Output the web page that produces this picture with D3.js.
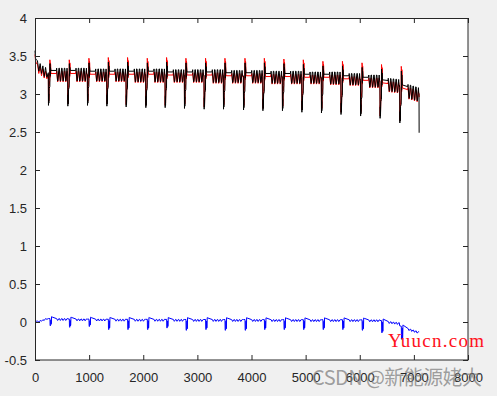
<!DOCTYPE html>
<html lang="en">
<head>
  <meta charset="UTF-8">
  <title>Voltage</title>
  <style>
    body { margin: 0; background: #f0f0f0; }
    svg { display: block; }
    .axis text { font-family: "Liberation Sans", Arial, sans-serif; font-size: 13px; fill: #262626; }
    .axis line, .axis path { stroke: #262626; }
    .line { fill: none; stroke-width: 1px; }
  </style>
</head>
<body>
  <script src="https://cdnjs.cloudflare.com/ajax/libs/d3/7.8.5/d3.min.js"></script>
  <script>
    // tick labels
    var xTicks = [0, 1000, 2000, 3000, 4000, 5000, 6000, 7000, 8000];
    var yTicks = [-0.5, 0, 0.5, 1, 1.5, 2, 2.5, 3, 3.5, 4];
    var yLabels = ["-0.5", "0", "0.5", "1", "1.5", "2", "2.5", "3", "3.5", "4"];

    // start of the record, before the first pulse
    var leadX   = [0, 10, 25, 45, 70, 95, 120, 145, 170, 195, 220, 246];
    var leadBlk = [3.57, 3.47, 3.45, 3.44, 3.30, 3.40, 3.27, 3.37, 3.23, 3.35, 3.22, 3.28];
    var leadRed = [3.52, 3.44, 3.40, 3.40, 3.27, 3.36, 3.24, 3.33, 3.21, 3.30, 3.20, 3.25];
    var leadBlu = [0.0, 0.005, 0.01, 0.012, 0.0, 0.02, 0.01, 0.03, 0.02, 0.045, 0.035, 0.045];

    // one entry per pulse cycle
    var cycleX  = [246, 604, 967, 1325, 1681, 2045, 2402, 2759, 3122, 3480, 3850, 4208, 4569, 4928, 5290, 5651, 6013, 6373, 6738];
    var blkTop  = [3.34, 3.34, 3.33, 3.33, 3.33, 3.33, 3.32, 3.32, 3.32, 3.31, 3.31, 3.30, 3.30, 3.29, 3.29, 3.27, 3.25, 3.22, 3.16];
    var blkBot  = [3.17, 3.17, 3.17, 3.17, 3.16, 3.16, 3.16, 3.16, 3.15, 3.15, 3.15, 3.14, 3.14, 3.14, 3.13, 3.12, 3.09, 3.05, 2.98];
    var blkDip  = [2.85, 2.84, 2.85, 2.84, 2.83, 2.82, 2.82, 2.81, 2.80, 2.80, 2.79, 2.78, 2.78, 2.76, 2.75, 2.73, 2.71, 2.68, 2.62];
    var blkPeak = [3.40, 3.40, 3.41, 3.42, 3.42, 3.41, 3.42, 3.41, 3.41, 3.41, 3.41, 3.41, 3.40, 3.39, 3.37, 3.37, 3.35, 3.33, 3.31];
    var redPeak = [3.45, 3.45, 3.47, 3.48, 3.48, 3.47, 3.48, 3.47, 3.47, 3.47, 3.47, 3.47, 3.46, 3.45, 3.43, 3.43, 3.41, 3.39, 3.37];
    var redDip  = [2.88, 2.87, 2.88, 2.87, 2.86, 2.85, 2.85, 2.84, 2.83, 2.83, 2.82, 2.81, 2.81, 2.79, 2.78, 2.76, 2.74, 2.71, 2.65];
    var bluBase = [0.045, 0.04, 0.038, 0.036, 0.035, 0.035, 0.034, 0.033, 0.033, 0.032, 0.032, 0.031, 0.031, 0.03, 0.03, 0.03, 0.028, 0.02, -0.05];
    var bluLow  = [-0.05, -0.07, -0.06, -0.10, -0.10, -0.10, -0.08, -0.11, -0.10, -0.11, -0.11, -0.10, -0.10, -0.10, -0.10, -0.10, -0.11, -0.14, -0.22];
    var drift   = [0, 0, 0, 0, 0, 0, 0, 0, 0, 0, 0, 0, 0, 0, 0, 0, 0, -0.03, -0.08];

    // end of the record
    var tailX   = [7097];
    var tailBlk = [2.49];
    var tailRed = [2.96];
    var tailBlu = [-0.13];

    // shape of one cycle: [offset, level, delta]
    var toothAt = [150, 200, 250, 300];
    var blkShape = [[0, "top", -0.07], [3, "dip", 0], [7, "dip", 0.15], [10, "dip", 0.03], [16, "dip", 0.22], [28, "dip", 0.25],
      [31, "peak", 0], [36, "top", -0.1], [40, "peak", -0.05], [48, "top", -0.03], [150, "top", -0.03]];
    var redShape = [[0, "top", -0.08], [3, "rdip", 0], [7, "rdip", 0.14], [10, "rdip", 0.03], [16, "rdip", 0.22], [26, "rdip", 0.3],
      [29, "rpeak", 0], [33, "rpeak", -0.03], [36, "top", -0.12], [40, "rpeak", -0.04], [44, "rpeak", -0.07], [48, "top", -0.07], [150, "top", -0.07]];
    var bluShape = [[0, "base", 0], [30, "base", 0], [33, "blow", 0.01], [37, "blow", 0], [44, "blow", 0.02], [48, "base", -0.02],
      [52, "blow", 0.02], [56, "blow", 0.03], [60, "base", 0.025], [72, "base", 0.02], [150, "base", 0]];
    var blkTooth = [[4, "top", 0], [22, "bot", 0], [28, "bot", 0.01], [46, "top", 0]];
    var redTooth = [[4, "top", -0.04], [22, "bot", -0.01], [28, "bot", 0], [46, "top", -0.04]];
    var bluTooth = [[4, "base", 0], [22, "base", -0.025], [28, "base", -0.02], [46, "base", 0]];
    var blkEnd = [[352, "top", -0.07], [357, "top", -0.07]];
    var redEnd = [[352, "top", -0.08], [357, "top", -0.08]];
    var bluEnd = [[357, "base", 0]];

    var levels = { top: blkTop, bot: blkBot, dip: blkDip, peak: blkPeak, rdip: redDip, rpeak: redPeak, base: bluBase, blow: bluLow };

    function build(lx, lv, shape, tooth, end, tx, tv) {
      var pts = lx.map(function (x, i) { return [x, lv[i]]; });
      cycleX.forEach(function (c, i) {
        var seq = shape.slice();
        toothAt.forEach(function (s) {
          tooth.forEach(function (p) { seq.push([s + p[0], p[1], p[2]]); });
        });
        seq = seq.concat(end);
        seq.forEach(function (p) {
          pts.push([c + p[0], levels[p[1]][i] + p[2] + drift[i] * p[0] / 360]);
        });
      });
      tx.forEach(function (x, i) { pts.push([x, tv[i]]); });
      return pts;
    }

    var redData = build(leadX, leadRed, redShape, redTooth, redEnd, tailX, tailRed);
    var blkData = build(leadX, leadBlk, blkShape, blkTooth, blkEnd, tailX, tailBlk);
    var bluData = build(leadX, leadBlu, bluShape, bluTooth, bluEnd, tailX, tailBlu);

    var W = 497, H = 396;
    var margin = { top: 18, right: 29, bottom: 36, left: 35 };
    var width = W - margin.left - margin.right,
        height = H - margin.top - margin.bottom;

    var x = d3.scaleLinear().domain([0, 8000]).range([0, width]);
    var y = d3.scaleLinear().domain([-0.5, 4]).range([height, 0]);

    var svg = d3.select("body").append("svg")
        .attr("width", W)
        .attr("height", H);

    var g = svg.append("g")
        .attr("transform", "translate(" + margin.left + "," + margin.top + ")");

    g.append("rect")
        .attr("width", width)
        .attr("height", height)
        .attr("fill", "#fff");

    var line = d3.line()
        .x(function (d) { return x(d[0]); })
        .y(function (d) { return y(d[1]); });

    g.append("path").datum(redData).attr("class", "line").attr("stroke", "#ff0000").attr("d", line);
    g.append("path").datum(blkData).attr("class", "line").attr("stroke", "#000000").attr("d", line);
    g.append("path").datum(bluData).attr("class", "line").attr("stroke", "#0000ff").attr("d", line);

    g.append("g").attr("class", "axis")
        .attr("transform", "translate(0," + height + ")")
        .call(d3.axisBottom(x).tickValues(xTicks).tickSizeInner(-5).tickSizeOuter(0).tickPadding(13).tickFormat(function (d) { return String(d); }));
    g.append("g").attr("class", "axis")
        .call(d3.axisTop(x).tickValues(xTicks).tickSizeInner(-5).tickSizeOuter(0).tickFormat(""));
    g.append("g").attr("class", "axis")
        .call(d3.axisLeft(y).tickValues(yTicks).tickSizeInner(-5).tickSizeOuter(0).tickPadding(8)
          .tickFormat(function (d, i) { return yLabels[i]; }));
    g.append("g").attr("class", "axis")
        .attr("transform", "translate(" + width + ",0)")
        .call(d3.axisRight(y).tickValues(yTicks).tickSizeInner(-5).tickSizeOuter(0).tickFormat(""));

    g.selectAll(".axis .domain").remove();
    g.append("rect")
        .attr("x", 0.5).attr("y", 0.5)
        .attr("width", width - 0.5)
        .attr("height", height - 0.5)
        .attr("fill", "none")
        .attr("stroke", "#262626");

    // watermarks
    svg.append("text")
        .attr("x", 388).attr("y", 347)
        .attr("textLength", 96)
        .style("font-family", "'Liberation Serif', serif")
        .style("font-size", "19px")
        .style("fill", "#ff1020")
        .text("Yuucn.com");
    svg.append("text")
        .attr("x", 312).attr("y", 385)
        .attr("textLength", 170)
        .style("font-family", "'Noto Sans CJK SC', sans-serif")
        .style("font-size", "20px")
        .style("fill", "rgba(120,120,120,0.7)")
        .text("CSDN @新能源姥大");
  </script>
</body>
</html>
